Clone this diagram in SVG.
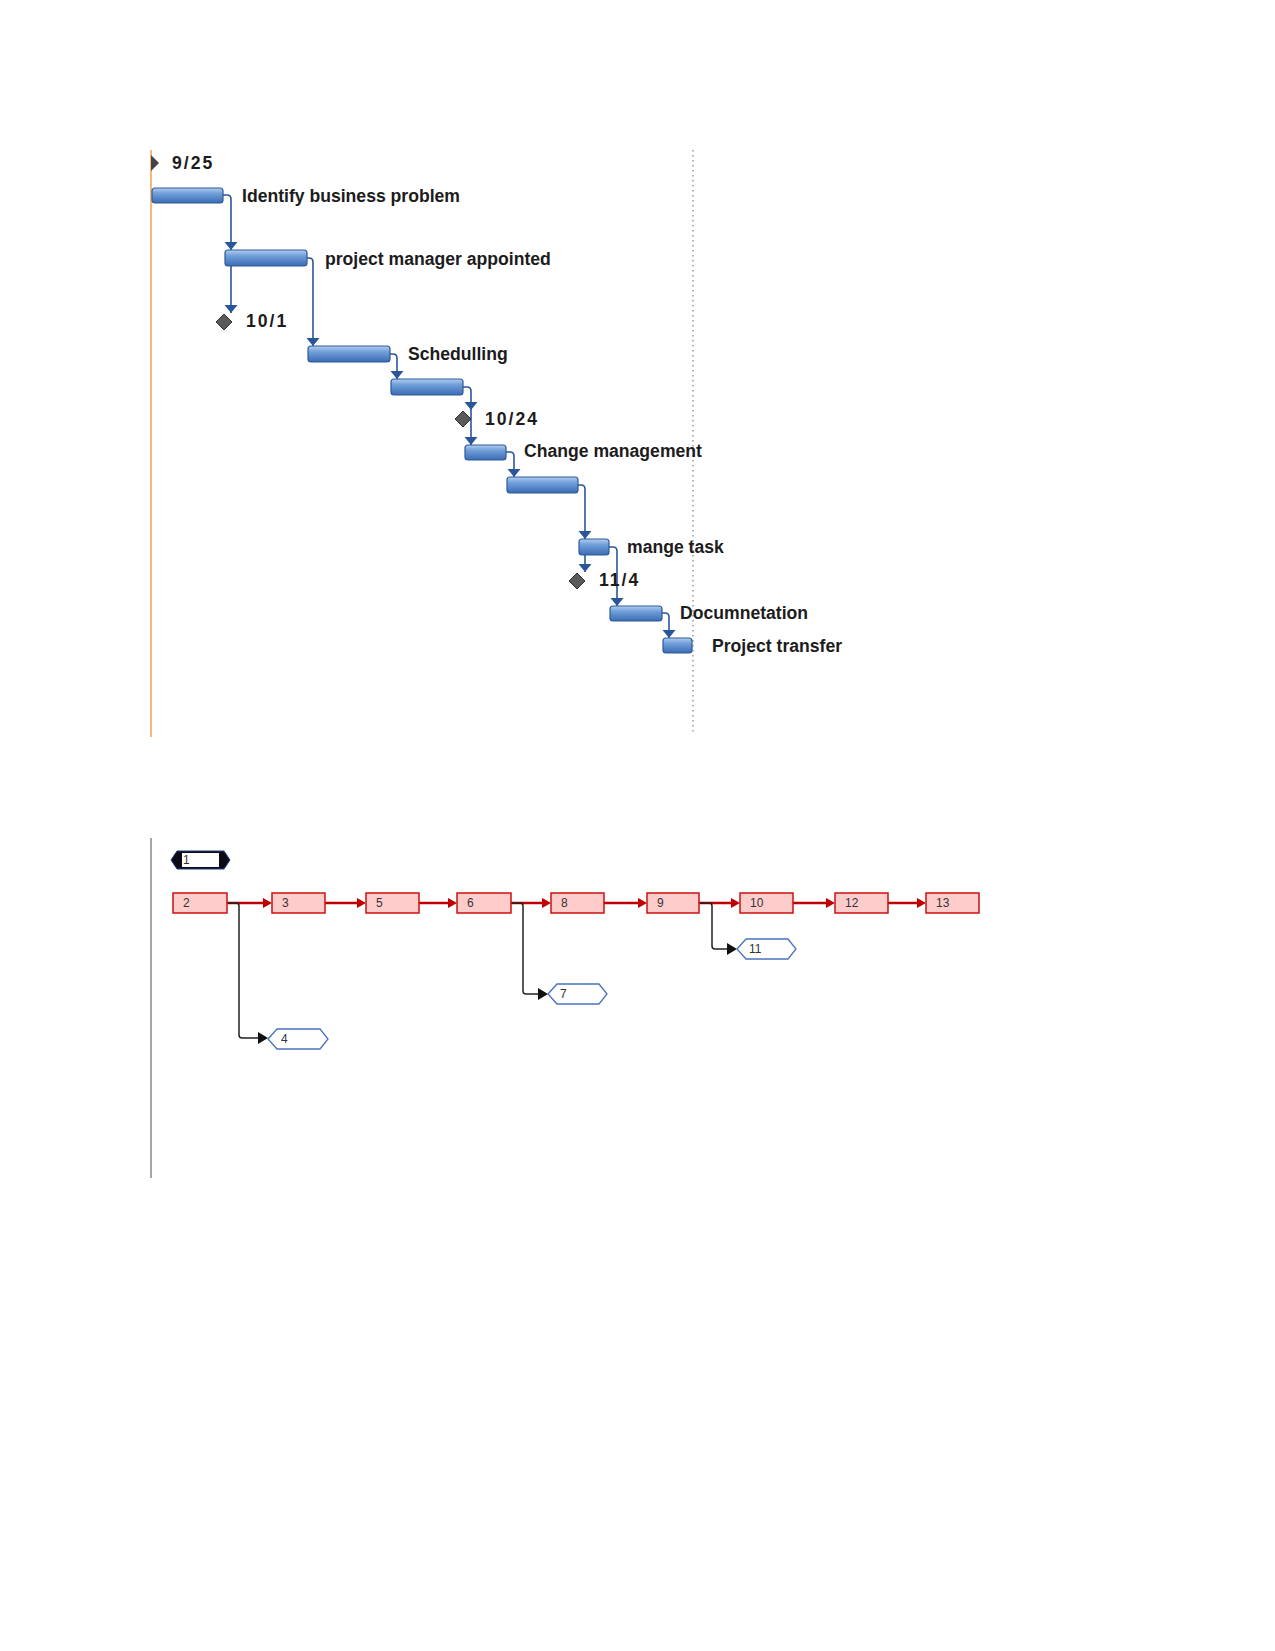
<svg xmlns="http://www.w3.org/2000/svg" xmlns:xlink="http://www.w3.org/1999/xlink" width="1275" height="1651" viewBox="0 0 1275 1651">
<style>
.bar{fill:url(#barg);stroke:#2c5a9c;stroke-width:1.2}
.lbl{font-family:"Liberation Sans",Arial,sans-serif;font-weight:bold;font-size:17.6px;fill:#1c1c1c}
.dt{letter-spacing:2px}
.lnk{fill:none;stroke:#2a5599;stroke-width:1.6}
.ah{fill:#2a5599}
.ms{fill:#5a5a5a;stroke:#333;stroke-width:1}
.rbox{fill:#ffcccc;stroke:#cc1111;stroke-width:1.5}
.rl{stroke:#c00000;stroke-width:2.5;fill:none}
.rah{fill:#c00000}
.hex{fill:#fff;stroke:#4a72c0;stroke-width:1.3}
.bl{fill:none;stroke:#222;stroke-width:1.5}
.bah{fill:#111}
.nt{font-family:"Liberation Sans",Arial,sans-serif;font-size:12px;fill:#333}
</style>
<defs>
<linearGradient id="barg" x1="0" y1="0" x2="0" y2="1">
<stop offset="0" stop-color="#b3cdef"/>
<stop offset="0.35" stop-color="#72a0da"/>
<stop offset="1" stop-color="#3a6cb3"/>
</linearGradient>
<path id="ah" d="M-6.5,-8 L6.5,-8 L0,0 Z" class="ah"/>
<path id="rah" d="M-9,-5 L0,0 L-9,5 Z" class="rah"/>
<path id="bah" d="M-10,-6 L0,0 L-10,6 Z" class="bah"/>
</defs>
<rect width="1275" height="1651" fill="#fff"/>

<!-- Gantt frame lines -->
<line x1="151" y1="150" x2="151" y2="737" stroke="#f0a050" stroke-width="1.5"/>
<line x1="693" y1="150" x2="693" y2="735" stroke="#999" stroke-width="1.5" stroke-dasharray="1.5,3.5"/>

<!-- Gantt connectors -->
<g id="gantt-links">
<path class="lnk" d="M223,195 H227 Q231,195 231,199 V313"/>
<use href="#ah" x="231" y="250"/>
<use href="#ah" x="231" y="313"/>
<path class="lnk" d="M307,258 H309 Q313,258 313,262 V346"/>
<use href="#ah" x="313" y="346"/>
<path class="lnk" d="M390,354 H393 Q397,354 397,358 V379"/>
<use href="#ah" x="397" y="379"/>
<path class="lnk" d="M463,387 H467 Q471,387 471,391 V445"/>
<use href="#ah" x="471" y="410"/>
<use href="#ah" x="471" y="445"/>
<path class="lnk" d="M506,452 H510 Q514,452 514,456 V477"/>
<use href="#ah" x="514" y="477"/>
<path class="lnk" d="M578,485 H581 Q585,485 585,489 V572"/>
<use href="#ah" x="585" y="539"/>
<use href="#ah" x="585" y="572"/>
<path class="lnk" d="M609,547 H613 Q617,547 617,551 V606"/>
<use href="#ah" x="617" y="606"/>
<path class="lnk" d="M662,613 H665 Q669,613 669,617 V638"/>
<use href="#ah" x="669" y="638"/>
</g>

<g id="ms-start"><path d="M151,155 L159,163 L151,171 Z" fill="#444"/><text class="lbl dt" x="172" y="169">9/25</text></g>
<g id="task-identify"><rect class="bar" x="152" y="188" width="71" height="15" rx="3"/><text class="lbl" x="242" y="202">Identify business problem</text></g>
<g id="task-pm"><rect class="bar" x="225" y="250" width="82" height="16" rx="3"/><text class="lbl" x="325" y="265">project manager appointed</text></g>
<g id="ms-101"><path class="ms" d="M224,314 L232,322 L224,330 L216,322 Z"/><text class="lbl dt" x="246" y="327">10/1</text></g>
<g id="task-sched"><rect class="bar" x="308" y="346" width="82" height="16" rx="3"/><text class="lbl" x="408" y="360">Schedulling</text></g>
<g id="task-4"><rect class="bar" x="391" y="379" width="72" height="16" rx="3"/></g>
<g id="ms-1024"><path class="ms" d="M463,411 L471,419 L463,427 L455,419 Z"/><text class="lbl dt" x="485" y="425">10/24</text></g>
<g id="task-change"><rect class="bar" x="465" y="445" width="41" height="15" rx="3"/><text class="lbl" x="524" y="457">Change management</text></g>
<g id="task-6"><rect class="bar" x="507" y="477" width="71" height="16" rx="3"/></g>
<g id="task-mange"><rect class="bar" x="579" y="539" width="30" height="16" rx="3"/><text class="lbl" x="627" y="553">mange task</text></g>
<g id="ms-114"><path class="ms" d="M577,573 L585,581 L577,589 L569,581 Z"/><text class="lbl dt" x="599" y="586">11/4</text></g>
<g id="task-doc"><rect class="bar" x="610" y="606" width="52" height="15" rx="3"/><text class="lbl" x="680" y="619">Documnetation</text></g>
<g id="task-transfer"><rect class="bar" x="663" y="638" width="29" height="15" rx="3"/><text class="lbl" x="712" y="652">Project transfer</text></g>

<!-- Network diagram -->
<line x1="151" y1="838" x2="151" y2="1178" stroke="#888" stroke-width="1.5"/>

<g id="net-links">
<line class="rl" x1="227" y1="903" x2="264" y2="903"/><use href="#rah" x="272" y="903"/>
<line class="rl" x1="325" y1="903" x2="358" y2="903"/><use href="#rah" x="366" y="903"/>
<line class="rl" x1="419" y1="903" x2="449" y2="903"/><use href="#rah" x="457" y="903"/>
<line class="rl" x1="511" y1="903" x2="543" y2="903"/><use href="#rah" x="551" y="903"/>
<line class="rl" x1="604" y1="903" x2="639" y2="903"/><use href="#rah" x="647" y="903"/>
<line class="rl" x1="699" y1="903" x2="732" y2="903"/><use href="#rah" x="740" y="903"/>
<line class="rl" x1="793" y1="903" x2="827" y2="903"/><use href="#rah" x="835" y="903"/>
<line class="rl" x1="888" y1="903" x2="918" y2="903"/><use href="#rah" x="926" y="903"/>
<path class="bl" d="M227,903 H236 Q239,903 239,906 V1035 Q239,1038 242,1038 H259"/><use href="#bah" x="268" y="1038"/>
<path class="bl" d="M511,903 H520 Q523,903 523,906 V991 Q523,994 526,994 H539"/><use href="#bah" x="548" y="994"/>
<path class="bl" d="M699,903 H709 Q712,903 712,906 V946 Q712,949 715,949 H728"/><use href="#bah" x="737" y="949"/>
</g>

<g id="n1"><path d="M171,860 L177,851 L224,851 L230,860 L224,869 L177,869 Z" fill="#0a0a14" stroke="#1f3d7a" stroke-width="1"/><rect x="182" y="853" width="37" height="14" fill="#fff"/><text class="nt" x="183" y="864" fill="#000">1</text></g>
<g id="n2"><rect class="rbox" x="173" y="893" width="54" height="20"/><text class="nt" x="183" y="907">2</text></g>
<g id="n3"><rect class="rbox" x="272" y="893" width="53" height="20"/><text class="nt" x="282" y="907">3</text></g>
<g id="n5"><rect class="rbox" x="366" y="893" width="53" height="20"/><text class="nt" x="376" y="907">5</text></g>
<g id="n6"><rect class="rbox" x="457" y="893" width="54" height="20"/><text class="nt" x="467" y="907">6</text></g>
<g id="n8"><rect class="rbox" x="551" y="893" width="53" height="20"/><text class="nt" x="561" y="907">8</text></g>
<g id="n9"><rect class="rbox" x="647" y="893" width="52" height="20"/><text class="nt" x="657" y="907">9</text></g>
<g id="n10"><rect class="rbox" x="740" y="893" width="53" height="20"/><text class="nt" x="750" y="907">10</text></g>
<g id="n12"><rect class="rbox" x="835" y="893" width="53" height="20"/><text class="nt" x="845" y="907">12</text></g>
<g id="n13"><rect class="rbox" x="926" y="893" width="53" height="20"/><text class="nt" x="936" y="907">13</text></g>
<g id="n4"><path class="hex" d="M268,1039 L277,1029 L320,1029 L328,1039 L320,1049 L277,1049 Z"/><text class="nt" x="281" y="1043">4</text></g>
<g id="n7"><path class="hex" d="M548,994 L557,984 L599,984 L607,994 L599,1004 L557,1004 Z"/><text class="nt" x="560" y="998">7</text></g>
<g id="n11"><path class="hex" d="M737,949 L746,939 L788,939 L796,949 L788,959 L746,959 Z"/><text class="nt" x="749" y="953">11</text></g>
</svg>
